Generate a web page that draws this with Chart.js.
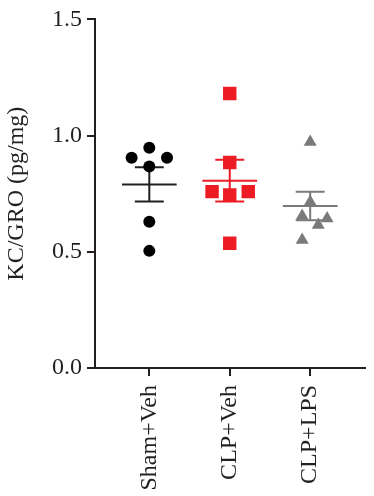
<!DOCTYPE html>
<html>
<head>
<meta charset="utf-8">
<script src="https://cdn.jsdelivr.net/npm/chart.js@4/dist/chart.umd.min.js"></script>
<style>
  html, body { margin: 0; padding: 0; background: #fff; }
  #wrap { width: 374px; height: 496px; }
</style>
</head>
<body>
<div id="wrap"><canvas id="mainChart" width="374" height="496"></canvas></div>
<script>
const categories = ['Sham+Veh', 'CLP+Veh', 'CLP+LPS'];
const yTicks = [0, 0.5, 1.0, 1.5];

const shamVeh = [0.948, 0.905, 0.905, 0.867, 0.629, 0.504];
const shamJitter = [0, -0.22, 0.22, 0, 0, 0];
const clpVeh = [1.181, 0.884, 0.759, 0.759, 0.745, 0.537];
const clpVehJitter = [0, 0, -0.22, 0.23, 0, 0];
const clpLps = [0.972, 0.714, 0.654, 0.643, 0.615, 0.551];
const clpLpsJitter = [0, 0, -0.10, 0.21, 0.10, -0.10];

const means = [0.790, 0.806, 0.697];
const sems = [0.074, 0.090, 0.061];

const axisColor = '#231f20';
const groupColors = ['#000000', '#ed1c24', '#7a7a7a'];
const lineColors = ['#231f20', '#ed1c24', '#7a7a7a'];
const serif = "'Liberation Serif', 'DejaVu Serif', serif";

function toPoints(vals, jit, pos) {
    return vals.map((v, i) => ({ x: pos + jit[i], y: v }));
}

// mean + SEM bars, drawn under the points
const semPlugin = {
    id: 'semBars',
    beforeDatasetsDraw(chart) {
        const ctx = chart.ctx;
        const xs = chart.scales.x, ys = chart.scales.y;
        ctx.save();
        ctx.lineWidth = 2;
        means.forEach((m, i) => {
            const pos = i + 1;
            const yM = ys.getPixelForValue(m);
            const yT = ys.getPixelForValue(m + sems[i]);
            const yB = ys.getPixelForValue(m - sems[i]);
            ctx.strokeStyle = lineColors[i];
            ctx.beginPath();
            ctx.moveTo(xs.getPixelForValue(pos - 0.34), yM);
            ctx.lineTo(xs.getPixelForValue(pos + 0.34), yM);
            ctx.moveTo(xs.getPixelForValue(pos - 0.18), yT);
            ctx.lineTo(xs.getPixelForValue(pos + 0.18), yT);
            ctx.moveTo(xs.getPixelForValue(pos - 0.18), yB);
            ctx.lineTo(xs.getPixelForValue(pos + 0.18), yB);
            ctx.moveTo(xs.getPixelForValue(pos), yT);
            ctx.lineTo(xs.getPixelForValue(pos), yB);
            ctx.stroke();
        });
        ctx.restore();
    },
    afterDraw(chart) {
        // x axis line sticks out a little left of the y axis
        const ctx = chart.ctx;
        const a = chart.chartArea;
        ctx.save();
        ctx.strokeStyle = axisColor;
        ctx.lineWidth = 2;
        ctx.beginPath();
        ctx.moveTo(a.left - 8, a.bottom);
        ctx.lineTo(a.left, a.bottom);
        ctx.stroke();
        ctx.restore();
    }
};

const ctx = document.getElementById('mainChart').getContext('2d');
new Chart(ctx, {
    type: 'scatter',
    data: {
        datasets: [
            { label: categories[0], data: toPoints(shamVeh, shamJitter, 1), pointStyle: 'circle', pointRadius: 6,
              backgroundColor: groupColors[0], borderColor: groupColors[0], borderWidth: 0 },
            { label: categories[1], data: toPoints(clpVeh, clpVehJitter, 2), pointStyle: 'rect', pointRadius: 9.5,
              backgroundColor: groupColors[1], borderColor: groupColors[1], borderWidth: 0 },
            { label: categories[2], data: toPoints(clpLps, clpLpsJitter, 3), pointStyle: 'triangle', pointRadius: 7.5,
              backgroundColor: groupColors[2], borderColor: groupColors[2], borderWidth: 0 }
        ]
    },
    options: {
        responsive: false, animation: false,
        layout: { padding: { top: 15, right: 1, left: 0, bottom: 0 } },
        plugins: { legend: { display: false }, tooltip: { enabled: false } },
        scales: {
            x: {
                type: 'linear', min: 0.325, max: 3.675,
                afterBuildTicks: s => { s.ticks = categories.map((c, i) => ({ value: i + 1 })); },
                afterFit: s => { s.height = 128; },
                grid: { display: true, drawOnChartArea: false, drawTicks: true, tickLength: 8, color: axisColor, lineWidth: 2 },
                border: { display: true, color: axisColor, width: 2 },
                ticks: {
                    minRotation: 90, maxRotation: 90, padding: 9, color: axisColor,
                    font: { family: serif, size: 24 },
                    callback: v => categories[Math.round(v) - 1]
                }
            },
            y: {
                min: 0, max: 1.5,
                afterBuildTicks: s => { s.ticks = yTicks.map(v => ({ value: v })); },
                afterFit: s => { s.width = 95; },
                grid: { display: true, drawOnChartArea: false, drawTicks: true, tickLength: 8, color: axisColor, lineWidth: 2 },
                border: { display: true, color: axisColor, width: 2 },
                ticks: { padding: 5, color: axisColor, font: { family: serif, size: 24 }, callback: v => v.toFixed(1) },
                title: { display: true, text: 'KC/GRO (pg/mg)', color: axisColor, font: { family: serif, size: 24 }, padding: { top: 2, bottom: 0 } }
            }
        }
    },
    plugins: [semPlugin]
});
</script>
</body>
</html>
